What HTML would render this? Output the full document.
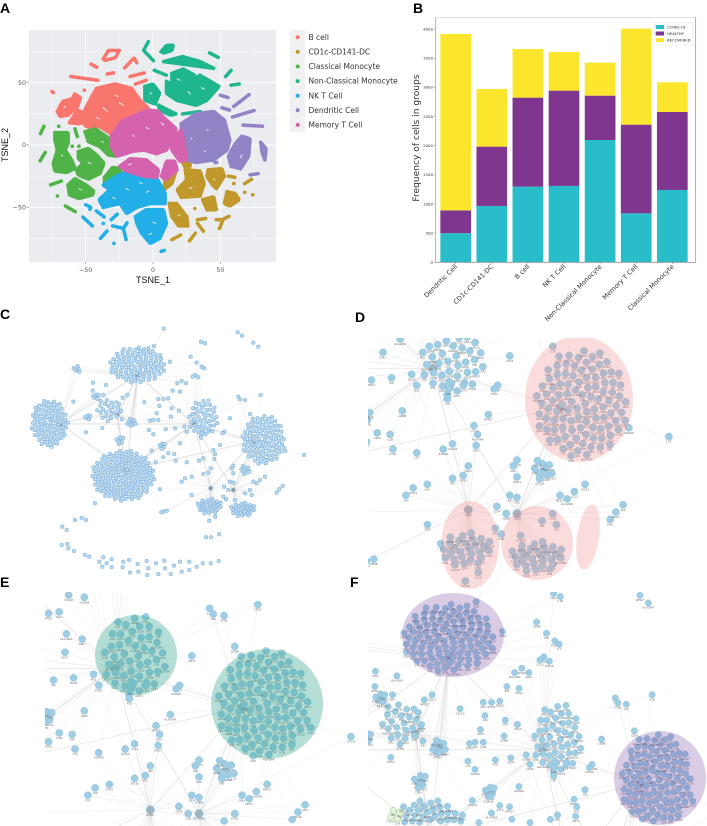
<!DOCTYPE html>
<html lang="en">
<head>
<meta charset="utf-8">
<title>Single-cell and network figure</title>
<style>
html,body{margin:0;padding:0;background:#fff;width:707px;height:826px;overflow:hidden}
svg{display:block}
text{font-family:"Liberation Sans",sans-serif}
.dv{font-family:"DejaVu Sans",sans-serif}
</style>
</head>
<body>
<svg id="fig" xmlns="http://www.w3.org/2000/svg" width="707" height="826" viewBox="0 0 707 826">
  <defs>
    <clipPath id="clip-c"><rect x="0" y="302" width="360" height="290"/></clipPath>
    <clipPath id="clip-d"><rect x="368" y="338" width="339" height="252"/></clipPath>
    <clipPath id="clip-e"><rect x="45" y="592" width="315" height="234"/></clipPath>
    <clipPath id="clip-f"><rect x="368" y="592" width="339" height="234"/></clipPath>
    <clipPath id="clip-a"><rect x="29" y="30" width="247" height="232"/></clipPath>
  </defs>
  <text x="0" y="13" font-size="14" font-weight="700">A</text>
  <text x="413" y="13" font-size="14" font-weight="700">B</text>
  <text x="0" y="319" font-size="14" font-weight="700">C</text>
  <text x="355" y="322" font-size="14" font-weight="700">D</text>
  <text x="0" y="587" font-size="14" font-weight="700">E</text>
  <text x="350" y="587" font-size="14" font-weight="700">F</text>
  <g id="panel-a"></g>
  <g id="panel-b"></g>
  <g id="panel-c" clip-path="url(#clip-c)"></g>
  <g id="panel-d" clip-path="url(#clip-d)"></g>
  <g id="panel-e" clip-path="url(#clip-e)"></g>
  <g id="panel-f" clip-path="url(#clip-f)"></g>
</svg>
<script>
/* ===== Panel A: t-SNE cluster data (t-SNE units) ===== */
const tsneXTicks = [-50, 0, 50];
const tsneYTicks = [-50, 0, 50];
const tsneMinorTicks = [-75, -25, 25, 75];
const clusterNames = ['B cell','CD1c-CD141-DC','Classical Monocyte','Non-Classical Monocyte','NK T Cell','Dendritic Cell','Memory T Cell'];
const clusterColors = ['#f8766d','#c0982b','#4fb348','#1fb68e','#22aee6','#9283c6','#d462ae'];
const bCellBlobs = [
 [-41.8,45.5,-28.2,49,-15.8,45.5,-9.7,36.1,-3.5,29.5,-14.6,22.8,-22,18.7,-29.5,8,-39.4,14.7,-49.3,14.7,-54.2,20,-49.3,30.8,-45.5,38.8],
 [-37,69,-33,76,-25,76,-28,70,-35.5,68,-37,69],[-46,65,-41,62],[-34,57,-29,58],[-61,55,-41,52],
 [-21,62,-14,70,-12,66],[-17,55,-6,58],[-13,49,-5,52],[-75,43,-74,42],[-51,44,-50,44],
 [-71,27,-67,35,-60,37,-58,41,-54,38,-56,31,-63,24,-69,23],[-62,18,-56,28,-52,26,-54,17]
];
const cd1cBlobs = [
 [8,-36,9,-29,17,-21,14,-31],[22,-14,28,-15,27,-18,24,-18],
 [24,-20,35,-21,38,-31,35,-41,21,-42,18,-36,25,-28],[41,-20,51,-19,53,-25,47,-35,44,-32,40,-25],
 [56,-25,61,-26],[60,-31,61,-31],[68,-31,74,-27],[68,-38,69,-38],[74,-40,75,-40],
 [37,-44,45,-41.5,47,-52,40,-52],[55,-37.5,61,-39,64,-44,57,-49,53,-47],
 [12,-47,17.5,-47,25,-57.5,26,-65,19,-65,14,-57.5],[31,-51,32,-51],[33,-60,39,-59],[33,-63,38,-70],
 [47,-60,52,-60,49,-68],[53,-59,57,-57],[27,-77,32,-70],[14,-76,21,-72]
];
const classicalMonocyteBlobs = [
 [-81,15,-84,8],[-80,-6,-84,-13],[-70,15,-69,15],
 [-72.8,10,-63,10,-63,1.3,-65.3,-4,-60.4,-12,-58,-18.7,-64,-22,-72.8,-21,-74,-14.7,-71,-4,-72.8,4],
 [-58,13,-56,6],[-50.5,10.7,-43,13,-34.4,6.7,-28.2,-4,-27.5,-9,-33.2,-8,-39.4,-1.3,-48,2.7],
 [-55.4,-5.4,-48,-2.7,-41.8,-8,-36.4,-14.7,-39.4,-22.8,-48,-27.5,-55.4,-24,-57,-20,-51.7,-14.7,-55.4,-10.7],
 [-36,-26,-30,-18,-24,-19,-24,-25,-32,-28,-36,-33],
 [-63,-32,-58,-27,-50,-32,-44,-37,-45,-40,-55,-43,-62,-40],
 [-76,-32,-68,-29],[-71,-41,-70,-41],[-65,-49,-57,-54],[-55,-1,-54,-1],[-60,-1,-59,-1]
];
const nonClassicalMonocyteBlobs = [
 [-3.5,83,-7,76,1,67],[6,75,10,80,15,80,14,76,8,74],[8,67,22,71,35,67,45,61.6],[42,74,49,70],[54,55,58,60],[58,48,64,49],
 [1,60,10,56],[14,57.5,22.5,61,31,56,29,48,17.5,45.5,14,52],[-6,47,0,49,5,41.5,1.5,33,-6,36],
 [10,51,20,46,35,56,49,47,40,36,32,32,17.5,36,10,41.5],[4,32,17,25,13,24,5,28],[22,25,36,27]
];
const nkTCellBlobs = [
 [-27,-25,-18,-21,3,-27,9,-39,9,-47,-2,-47,-12,-50,-19.5,-55,-24.5,-47,-37,-50,-40,-44,-32,-36,-37,-32],
 [-13,-57.5,-5,-52,7.7,-52,10,-63,5,-75,-2,-79,-8.4,-71,-12,-63],
 [-50,-48,-46,-50,-47,-52],[-42,-53,-36,-58],[-31,-60,-26,-55],[-52,-58,-45,-65],[-39,-75,-34,-69],
 [-30,-65,-22,-67,-20,-76],[-22,-67,-19,-62],[-37,-63,-36,-63],[-29,-79,-28,-79],[6,-85.5,9,-84.5]
];
const dendriticCellBlobs = [
 [21,17,32,25,45,27,53,20,57,4,55,-4,45,-12,32,-14,25,-12,21,4],
 [50,40,56,38],[51,30,57,28],[60,31,72,41],[59,22.5,76,28],[67,16,82,15],
 [66,7,72,5,71,-9,65,-19,58,-17,56,-9,61,1],[80,2,84,-3,83,-12,81,-6],[72,-24,78,-23],[46,-14,48,-14]
];
const memoryTCellBlobs = [
 [-31,7,-23,19,-14.6,23,-3.5,28,4,27,8,22,17,13,10,-4,2.7,-7,-7,-4,-14.6,-5,-27,-9,-31,-1],
 [-24.5,-17,-17,-11,-5,-12,4,-20,3,-26,-7,-25,-19.5,-21],
 [6.4,-25,10,-13,16,-13,18,-20,9,-28],[12.6,4,21,12,25,-12,20,-13,14,-4]
];
const clusterBlobs = [bCellBlobs,cd1cBlobs,classicalMonocyteBlobs,nonClassicalMonocyteBlobs,nkTCellBlobs,dendriticCellBlobs,memoryTCellBlobs];
const tsneGaps = [
 [-37,30,-34,27],[-25,34,-22,32],[-42,22,-40,21],[-28,40,-26,39],[-33,72,-28,73],[-66,30,-65,31],
 [-68,-8,-67,-9],[-48,-14,-46,-15],[-38,3,-37,2],[-55,-35,-53,-36],
 [18,53,20,52],[26,43,28,41],[36,46,38,45],[-2,42,-1,41],
 [28,5,29,5],[40,12,41,12],[38,-5,39,-5],[66,-8,65,-10],
 [-15,8,-14,7],[-5,14,-3,13],[6,18,8,16],[-18,-16,-16,-15],
 [27,-35,29,-34],[45,-27,46,-28],[19,-56,20,-57],
 [-20,-35,-18,-36],[-5,-38,-3,-37],[-30,-42,-28,-43],[0,-62,2,-63],[-3,-72,-1,-71],[-10,-30,-8,-31]
];

/* ===== Panel B: stacked bar data ===== */
const barCategories = ['Dendritic Cell','CD1c-CD141-DC','B cell','NK T Cell','Non-Classical Monocyte','Memory T Cell','Classical Monocyte'];
const covidCounts = [500,966,1297,1309,2097,840,1240];
const healthyCounts = [390,1017,1526,1634,760,1520,1337];
const recoveredCounts = [3024,988,834,663,566,1646,509];
const barYTicks = [0,500,1000,1500,2000,2500,3000,3500,4000];
const barSeriesNames = ['COVID-19','HEALTHY','RECOVERED'];
const barSeriesColors = ['#29bdc9','#7f368e','#fbe62d'];

/* ===== Panels C-F: one network, in layout units ===== */
const hubCentreX = [413,180,378,760,583,352,632,700];
const hubCentreY = [225,372,510,425,372,345,565,570];
const fanCentreX = [412,148,370,790,610,325,628,728];
const fanCentreY = [195,370,527,420,355,330,618,628];
const fanRadiusX = [85,55,95,65,45,37,38,38];
const fanRadiusY = [55,72,77,75,57,35,24,22];
const fanSizes = [100,90,170,100,45,22,28,28];
const hubLinks = [[0,2],[0,2],[0,2],[1,0],[1,0],[1,2],[3,4],[4,2],[4,2],[6,4],[7,3],[6,3],[7,4],[5,0],[5,2],[3,6],[4,0],[1,4],[2,3]];
const tightX = [395,360,487,288,263,735,232];
const tightY = [367,420,437,290,352,510,207];
const tightRadius = [13,13,10,10,9,15,12];
const tightSizes = [10,7,7,6,6,9,5];
const satellites = [491,86,462,138,510,185,572,170,603,125,615,130,590,188,605,200,613,205,585,225,595,232,578,230,545,243,532,250,558,250,540,275,518,272,505,295,475,297,490,297,478,318,515,325,537,332,513,350,470,340,475,360,460,360,450,362,447,390,460,403,433,307,382,285,368,293,318,255,279,248,278,272,310,285,220,305,363,332,357,313,258,397,307,384,365,358,497,388,525,385,553,380,560,395,605,390,603,413,605,400,625,395,540,430,455,452,505,460,523,462,490,472,467,487,527,482,560,487,597,482,610,475,640,450,660,435,645,462,643,477,632,505,610,522,625,518,575,530,555,535,545,545,575,585,480,568,490,635,500,632,484,637,690,355,750,342,782,285,715,290,720,298,735,300,673,395,668,400,912,465,856,453,795,530,780,540,760,545,770,550,830,578,838,568,848,558,700,497,695,505,700,520,690,545,700,548,672,560,685,570,670,590,678,598,735,580,750,570,755,585,705,600,628,662,646,650,618,712,633,712,657,703,285,610];
const looseNodes = [713,97,726,107,760,128,775,140,258,660,245,654,225,660,187,680,200,690,185,735,202,732,205,745,222,753,255,765,268,770,310,772,335,778,298,785,320,790,307,800,335,802,370,785,387,780,368,802,390,818,415,815,413,792,440,783,468,790,445,805,442,825,475,822,493,782,495,805,512,822,522,797,540,785,545,815,568,785,568,810,590,800,608,790,632,790,656,783];
const geneLabels = ['CD14','IL1B','TNF','FCN1','LYZ','S100A8','CXCL8','CCL3','RPS27','HLA-DRA','GNLY','NKG7','IFI6','ISG15','MX1','STAT1','JUN','FOS','CD74','GZMB'];

const NS = 'http://www.w3.org/2000/svg';
function mk(tag, parent, attrs){
  const el = document.createElementNS(NS, tag);
  for (const k in attrs) el.setAttribute(k, attrs[k]);
  parent.appendChild(el);
  return el;
}

/* ---------- Panel A ---------- */
const pa = document.getElementById('panel-a');
const tx = v => 153 + v * 1.347;
const ty = v => 145 - v * 1.245;
const aBg = mk('rect', pa, {x:29,y:30,width:247,height:232,fill:'#ebecf0'});


tsneMinorTicks.forEach(v => {
  const gx = mk('line', pa, {x1:tx(v),x2:tx(v),y1:30,y2:262,stroke:'#fff','stroke-width':0.4});
  
  
  const gy = mk('line', pa, {x1:29,x2:276,y1:ty(v),y2:ty(v),stroke:'#fff','stroke-width':0.4});
  
  
});
tsneXTicks.forEach(v => {
  const g = mk('line', pa, {x1:tx(v),x2:tx(v),y1:30,y2:262,stroke:'#fff','stroke-width':0.9});
  
  
  const t = mk('line', pa, {x1:tx(v),x2:tx(v),y1:262,y2:264,stroke:'#555','stroke-width':0.5});
  
  
  const l = mk('text', pa, {x:tx(v),y:272,'text-anchor':'middle','font-size':6.3,fill:'#555',class:'dv'});
  
  
  l.textContent = v < 0 ? '\u2212' + (-v) : String(v);
});
tsneYTicks.forEach(v => {
  const g = mk('line', pa, {x1:29,x2:276,y1:ty(v),y2:ty(v),stroke:'#fff','stroke-width':0.9});
  
  
  const t = mk('line', pa, {x1:27,x2:29,y1:ty(v),y2:ty(v),stroke:'#555','stroke-width':0.5});
  
  
  const l = mk('text', pa, {x:26,y:ty(v)+2.2,'text-anchor':'end','font-size':6.3,fill:'#555',class:'dv'});
  
  
  l.textContent = v < 0 ? '\u2212' + (-v) : String(v);
});
clusterBlobs.forEach((blobs, c) => {
  const grp = mk('g', pa, {fill:clusterColors[c],stroke:clusterColors[c],'stroke-linejoin':'round','stroke-linecap':'round','clip-path':'url(#clip-a)'});
  
  
  blobs.forEach(b => {
    const pts = [];
    for (let i = 0; i < b.length; i += 2) pts.push(tx(b[i]).toFixed(1) + ',' + ty(b[i+1]).toFixed(1));
    const isArea = b.length >= 8 && !(b[0] === b[b.length-2] && b[1] === b[b.length-1]);
    const shape = isArea
      ? mk('polygon', grp, {points:pts.join(' '),'stroke-width':3.8,'stroke-dasharray':'0.1 2.3'})
      : mk('polyline', grp, {points:pts.join(' '),fill:'none','stroke-width':3.6,'stroke-dasharray':'0.1 1.5'});
    
    
  });
});
tsneGaps.forEach(b => {
  const gap = mk('line', pa, {x1:tx(b[0]),y1:ty(b[1]),x2:tx(b[2]),y2:ty(b[3]),stroke:'#ebecf0','stroke-width':1,'stroke-linecap':'round'});
  
  
});
const xt = mk('text', pa, {x:153,y:283,'text-anchor':'middle','font-size':9,fill:'#111'});


xt.textContent = 'TSNE_1';
const yt = mk('text', pa, {x:8,y:145,'text-anchor':'middle','font-size':9,fill:'#111',transform:'rotate(-90 8 145)'});


yt.textContent = 'TSNE_2';
const keyBg = mk('rect', pa, {x:290,y:30,width:15,height:102,fill:'#f1f1f3'});


clusterNames.forEach((n, i) => {
  const y = 37.3 + i * 14.6;
  const d = mk('circle', pa, {cx:297.7,cy:y,r:2,fill:clusterColors[i]});
  
  
  const t = mk('text', pa, {x:308.5,y:y+2.6,'font-size':7.5,fill:'#333',class:'dv'});
  
  
  t.textContent = n;
});

/* ---------- Panel B ---------- */
const pb = document.getElementById('panel-b');
const by = v => 262.3 - v * 0.05833;
const bandCentre = i => 455.7 + i * 36.1;
const bandWidth = 30.7;
const series = [covidCounts, healthyCounts, recoveredCounts];
barCategories.forEach((cat, i) => {
  let base = 0;
  series.forEach((vals, s) => {
    const r = mk('rect', pb, {x:bandCentre(i)-bandWidth/2,y:by(base+vals[i]),width:bandWidth,height:by(base)-by(base+vals[i]),fill:barSeriesColors[s]});
    
    
    base += vals[i];
  });
  const tk = mk('line', pb, {x1:bandCentre(i),x2:bandCentre(i),y1:262.3,y2:264,stroke:'#555','stroke-width':0.4});
  
  
  const ax = bandCentre(i)+2, ay = 267;
  const lb = mk('text', pb, {x:ax,y:ay,'text-anchor':'end','font-size':6.5,fill:'#333',class:'dv',transform:'rotate(-45 '+ax+' '+ay+')'});
  
  
  lb.textContent = cat;
});
barYTicks.forEach(v => {
  const tk = mk('line', pb, {x1:434,x2:435.7,y1:by(v),y2:by(v),stroke:'#555','stroke-width':0.4});
  
  
  const l = mk('text', pb, {x:433,y:by(v)+1.4,'text-anchor':'end','font-size':3.9,fill:'#333',class:'dv'});
  
  
  l.textContent = String(v);
});
[[435.7,17.3,695.7,17.3,'#d0d0d0'],[695.7,17.3,695.7,262.3,'#8a8a8a'],[435.7,262.3,695.7,262.3,'#777'],[435.7,17.3,435.7,262.3,'#999']].forEach(s => {
  const sp = mk('line', pb, {x1:s[0],y1:s[1],x2:s[2],y2:s[3],stroke:s[4],'stroke-width':0.7});
  
  
});
const bt = mk('text', pb, {x:419,y:138,'text-anchor':'middle','font-size':9.1,fill:'#333',class:'dv',transform:'rotate(-90 419 138)'});


bt.textContent = 'Frequency of cells in groups';
const lgBox = mk('rect', pb, {x:654,y:23,width:39,height:22,fill:'#fff',stroke:'#ddd','stroke-width':0.4});


barSeriesNames.forEach((n, i) => {
  const yy = 25 + i * 6.5;
  const sw = mk('rect', pb, {x:655.7,y:yy,width:8.3,height:4,fill:barSeriesColors[i]});
  
  
  const t = mk('text', pb, {x:667,y:yy+3.6,'font-size':3.8,fill:'#222',class:'dv'});
  
  
  t.textContent = n;
});

/* ---------- Network model ---------- */
const nodes = [];
const links = [];
hubCentreX.forEach((hx, h) => {
  nodes.push({x:hx,y:hubCentreY[h],hub:true});
  for (let i = 0; i < fanSizes[h]; i++) {
    const r = Math.sqrt((i + 0.6) / fanSizes[h]), a = i * 2.39996;
    nodes.push({x:fanCentreX[h] + fanRadiusX[h]*r*Math.cos(a), y:fanCentreY[h] + fanRadiusY[h]*r*Math.sin(a)});
    links.push([hx, hubCentreY[h], nodes[nodes.length-1].x, nodes[nodes.length-1].y, 0]);
  }
});
function nearestHubs(x, y){
  return hubCentreX.map((hx, h) => [Math.hypot(hx-x, hubCentreY[h]-y), h]).sort((a, b) => a[0]-b[0]);
}
tightX.forEach((cx, t) => {
  const near = nearestHubs(cx, tightY[t]);
  for (let i = 0; i < tightSizes[t]; i++) {
    const r = Math.sqrt((i + 0.5) / tightSizes[t]) * tightRadius[t], a = i * 2.39996;
    const p = {x:cx + r*Math.cos(a), y:tightY[t] + r*Math.sin(a)};
    nodes.push(p);
    links.push([hubCentreX[near[0][1]], hubCentreY[near[0][1]], p.x, p.y, 1]);
    links.push([hubCentreX[near[1][1]], hubCentreY[near[1][1]], p.x, p.y, 1]);
  }
});
for (let i = 0; i < satellites.length; i += 2) {
  const p = {x:satellites[i], y:satellites[i+1]};
  nodes.push(p);
  const near = nearestHubs(p.x, p.y);
  links.push([hubCentreX[near[0][1]], hubCentreY[near[0][1]], p.x, p.y, 1]);
  if (i % 4 === 0) links.push([hubCentreX[near[1][1]], hubCentreY[near[1][1]], p.x, p.y, 1]);
}
for (let i = 0; i < looseNodes.length; i += 2) nodes.push({x:looseNodes[i], y:looseNodes[i+1]});
hubLinks.forEach(l => links.push([hubCentreX[l[0]], hubCentreY[l[0]], hubCentreX[l[1]], hubCentreY[l[1]], 2]));

/* Trim an edge to the panel box so nothing extends past the panel */
function trimSegment(a, b, c, d, box){
  let t0 = 0, t1 = 1;
  const dx = c - a, dy = d - b;
  const checks = [[-dx, a-box[0]],[dx, box[2]-a],[-dy, b-box[1]],[dy, box[3]-b]];
  for (const q of checks) {
    if (q[0] === 0) { if (q[1] < 0) return null; continue; }
    const t = q[1] / q[0];
    if (q[0] < 0) { if (t > t1) return null; if (t > t0) t0 = t; }
    else { if (t < t0) return null; if (t < t1) t1 = t; }
  }
  return [a + t0*dx, b + t0*dy, a + t1*dx, b + t1*dy];
}

function drawNetwork(id, fx, fy, box, opt){
  const g = document.getElementById(id);
  const paths = ['', '', ''];
  links.forEach(l => {
    const s = trimSegment(fx(l[0]), fy(l[1]), fx(l[2]), fy(l[3]), box);
    if (!s) return;
    paths[l[4]] += 'M' + s[0].toFixed(1) + ' ' + s[1].toFixed(1) + 'L' + s[2].toFixed(1) + ' ' + s[3].toFixed(1);
  });
  paths.forEach((d, k) => {
    const e = mk('path', g, {d:d,fill:'none',stroke:k===2?'#d6d2d2':'#d4d0d0','stroke-width':k===2?opt.hubW:opt.edgeW,'stroke-opacity':k===0?0.3:0.55});
    
    
  });
  let n = 0;
  nodes.forEach(p => {
    const x = fx(p.x), y = fy(p.y);
    const rr = p.hub ? opt.r*1.15 : opt.r;
    if (x + rr > box[2] || y + rr > box[3] || x < box[0]-rr || y < box[1]-rr) return;
    n++;
    const green = opt.greenCorner && x < 400 && y > 808;
    const c = mk('circle', g, {cx:x.toFixed(1),cy:y.toFixed(1),r:rr,fill:green ? '#e8f3e0' : (p.hub ? opt.hubFill : opt.fill),stroke:green ? '#63b84a' : opt.stroke,'stroke-width':opt.sw});
    
    
    if (opt.labels && y + opt.r + 4 < box[3]) {
      const t = mk('text', g, {x:x.toFixed(1),y:(y+opt.r+2.4).toFixed(1),'text-anchor':'middle','font-size':2.7,fill:'#666'});
      
      
      t.textContent = geneLabels[n % geneLabels.length];
    }
  });
  (opt.overlays || []).forEach(o => {
    const e = mk('ellipse', g, {cx:o[0],cy:o[1],rx:o[2],ry:o[3],fill:opt.overlay,transform:o[4] ? 'rotate('+o[4]+' '+o[0]+' '+o[1]+')' : ''});
    
    
  });
}

/* Panel C */
drawNetwork('panel-c', x => x/3, y => 300 + y/3, [0,302,360,592],
  {r:1.75,sw:0.55,fill:'#bcd8ec',hubFill:'#8f9aa3',stroke:'#7ab0de',edgeW:0.3,hubW:1.2});
/* Panel D */
const dx = x => 560 + 0.7167*(x-760), dy = y => 408 + 0.7333*(y-426);
drawNetwork('panel-d', dx, dy, [368,338,707,590],
  {r:3.6,sw:0.4,fill:'#9fcde4',hubFill:'#9fb5c4',stroke:'#86bbd6',edgeW:0.35,hubW:0.8,labels:true,overlay:'rgba(240,130,130,0.28)',
   overlays:[[579,399,54,63],[470,545,29,44],[537,543,36,37],[588,537,11,33,8]]});
/* Panel E */
drawNetwork('panel-e', x => dx(x)-318, y => dy(y)+300, [45,592,360,826],
  {r:3.6,sw:0.4,fill:'#9fcde4',hubFill:'#9fb5c4',stroke:'#86bbd6',edgeW:0.35,hubW:0.8,labels:true,overlay:'rgba(50,165,140,0.36)',
   overlays:[[267,704,56,55],[136,655,41,40]]});
/* Panel F */
drawNetwork('panel-f', x => 640 + 0.55*(x-760), y => 784 + 0.633*(y-426), [368,592,707,826],
  {r:3.2,sw:0.4,fill:'#9fcde4',hubFill:'#9fb5c4',stroke:'#86bbd6',edgeW:0.35,hubW:0.8,labels:true,greenCorner:true,overlay:'rgba(110,50,150,0.25)',
   overlays:[[453,635,51,42],[660,778,46,47]]});
</script>
</body>
</html>
